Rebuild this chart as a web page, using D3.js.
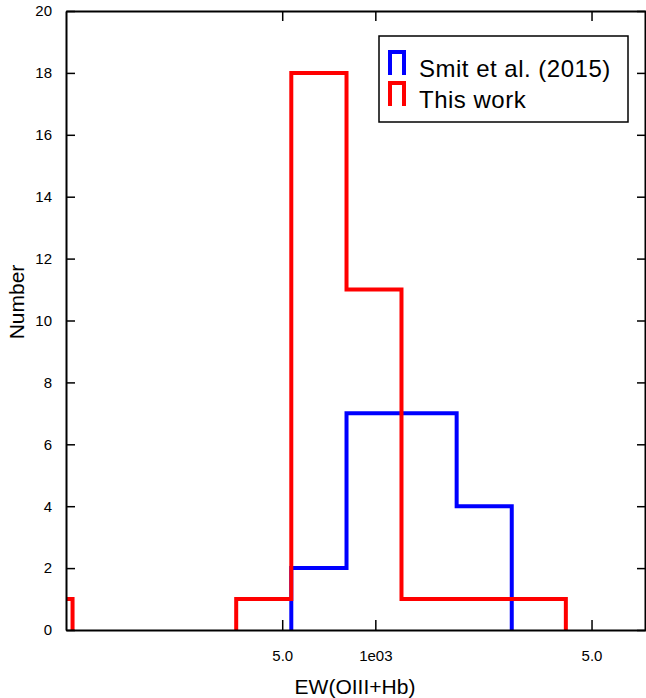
<!DOCTYPE html>
<html>
<head>
<meta charset="utf-8">
<script src="https://cdn.jsdelivr.net/npm/d3@7"></script>
<style>
  body { margin: 0; background: #fff; }
  svg { display: block; font-family: "Liberation Sans", Arial, sans-serif; }
</style>
</head>
<body>
<div id="chart"></div>
<script>
// histogram bin edges (EW, log spaced) and counts per bin
const binEdges = [70, 105, 158, 237, 355, 535, 807, 1215, 1832, 2761, 4130];
const smitCounts = [0, 0, 0, 0, 0, 2, 7, 7, 4, 0];
const thisWorkCounts = [1, 0, 0, 0, 1, 18, 11, 1, 1, 1];
const xTicks = [500, 1000, 5000];
const xTickLabels = ["5.0", "1e03", "5.0"];
const yTicks = d3.range(0, 21, 2);

const width = 646, height = 698;
const margin = {top: 11, right: 0, bottom: 68, left: 66};

const svg = d3.select("#chart").append("svg")
    .attr("width", width)
    .attr("height", height);

const x = d3.scaleLog()
    .domain([100, 7500])
    .range([margin.left, width - margin.right]);

const y = d3.scaleLinear()
    .domain([0, 20])
    .range([height - margin.bottom, margin.top]);

svg.append("clipPath").attr("id", "clip")
  .append("rect")
    .attr("x", margin.left).attr("y", margin.top - 5)
    .attr("width", width - margin.left).attr("height", y(0) - margin.top + 5);

// step outline of a histogram, skipping runs along the baseline
function stepPath(counts) {
  const path = d3.path();
  const c = [0, ...counts, 0];
  for (let i = 0; i < binEdges.length; i++) {
    const xe = x(binEdges[i]);
    const before = c[i], after = c[i + 1];
    if (before !== after) {
      path.moveTo(xe, y(before));
      path.lineTo(xe, y(after));
    }
    if (i < counts.length && counts[i] > 0) {
      path.moveTo(xe, y(counts[i]));
      path.lineTo(x(binEdges[i + 1]), y(counts[i]));
    }
  }
  return path.toString();
}

const hist = svg.append("g").attr("clip-path", "url(#clip)");

hist.append("path")
    .attr("d", stepPath(smitCounts))
    .attr("fill", "none")
    .attr("stroke", "#0000ff")
    .attr("stroke-width", 4)
    .attr("stroke-linecap", "square");

hist.append("path")
    .attr("d", stepPath(thisWorkCounts))
    .attr("fill", "none")
    .attr("stroke", "#ff0000")
    .attr("stroke-width", 4)
    .attr("stroke-linecap", "square");

// axes (frame with inward ticks)
const axisStyle = g => {
  g.select(".domain").attr("stroke-width", 2);
  g.selectAll(".tick line").attr("stroke-width", 1.5);
  g.selectAll(".tick text").attr("font-size", 15).attr("fill", "#000");
};

svg.append("g")
    .attr("transform", `translate(0,${y(0)})`)
    .call(d3.axisBottom(x).tickValues(xTicks).tickFormat((d, i) => xTickLabels[i])
      .tickSizeInner(-10).tickSizeOuter(0).tickPadding(20))
    .call(axisStyle);

svg.append("g")
    .attr("transform", `translate(0,${margin.top})`)
    .call(d3.axisTop(x).tickValues(xTicks).tickFormat("")
      .tickSizeInner(-10).tickSizeOuter(0))
    .call(axisStyle);

svg.append("g")
    .attr("transform", `translate(${margin.left},0)`)
    .call(d3.axisLeft(y).tickValues(yTicks).tickFormat(d3.format("d"))
      .tickSizeInner(-9).tickSizeOuter(0).tickPadding(14))
    .call(axisStyle);

svg.append("g")
    .attr("transform", `translate(${width - 1},0)`)
    .call(d3.axisRight(y).tickValues(yTicks).tickFormat("")
      .tickSizeInner(-8).tickSizeOuter(0))
    .call(axisStyle);

// axis titles
svg.append("text")
    .attr("x", 355).attr("y", 694)
    .attr("text-anchor", "middle")
    .attr("font-size", 21)
    .text("EW(OIII+Hb)");

svg.append("text")
    .attr("transform", "translate(24,302) rotate(-90)")
    .attr("text-anchor", "middle")
    .attr("font-size", 21)
    .text("Number");

// legend
const legend = svg.append("g");
legend.append("rect")
    .attr("x", 379).attr("y", 36)
    .attr("width", 249).attr("height", 86)
    .attr("fill", "#fff")
    .attr("stroke", "#000")
    .attr("stroke-width", 1.5);

const legendItems = [
  {label: "Smit et al. (2015)", color: "#0000ff"},
  {label: "This work", color: "#ff0000"}
];

legendItems.forEach((d, i) => {
  const ty = 77 + i * 31;
  legend.append("path")
      .attr("d", `M390,${ty - 2}V${ty - 25}H404V${ty - 2}`)
      .attr("fill", "none")
      .attr("stroke", d.color)
      .attr("stroke-width", 4);
  legend.append("text")
      .attr("x", 419).attr("y", ty)
      .attr("font-size", 24)
      .attr("letter-spacing", 0.5)
      .text(d.label);
});
</script>
</body>
</html>
